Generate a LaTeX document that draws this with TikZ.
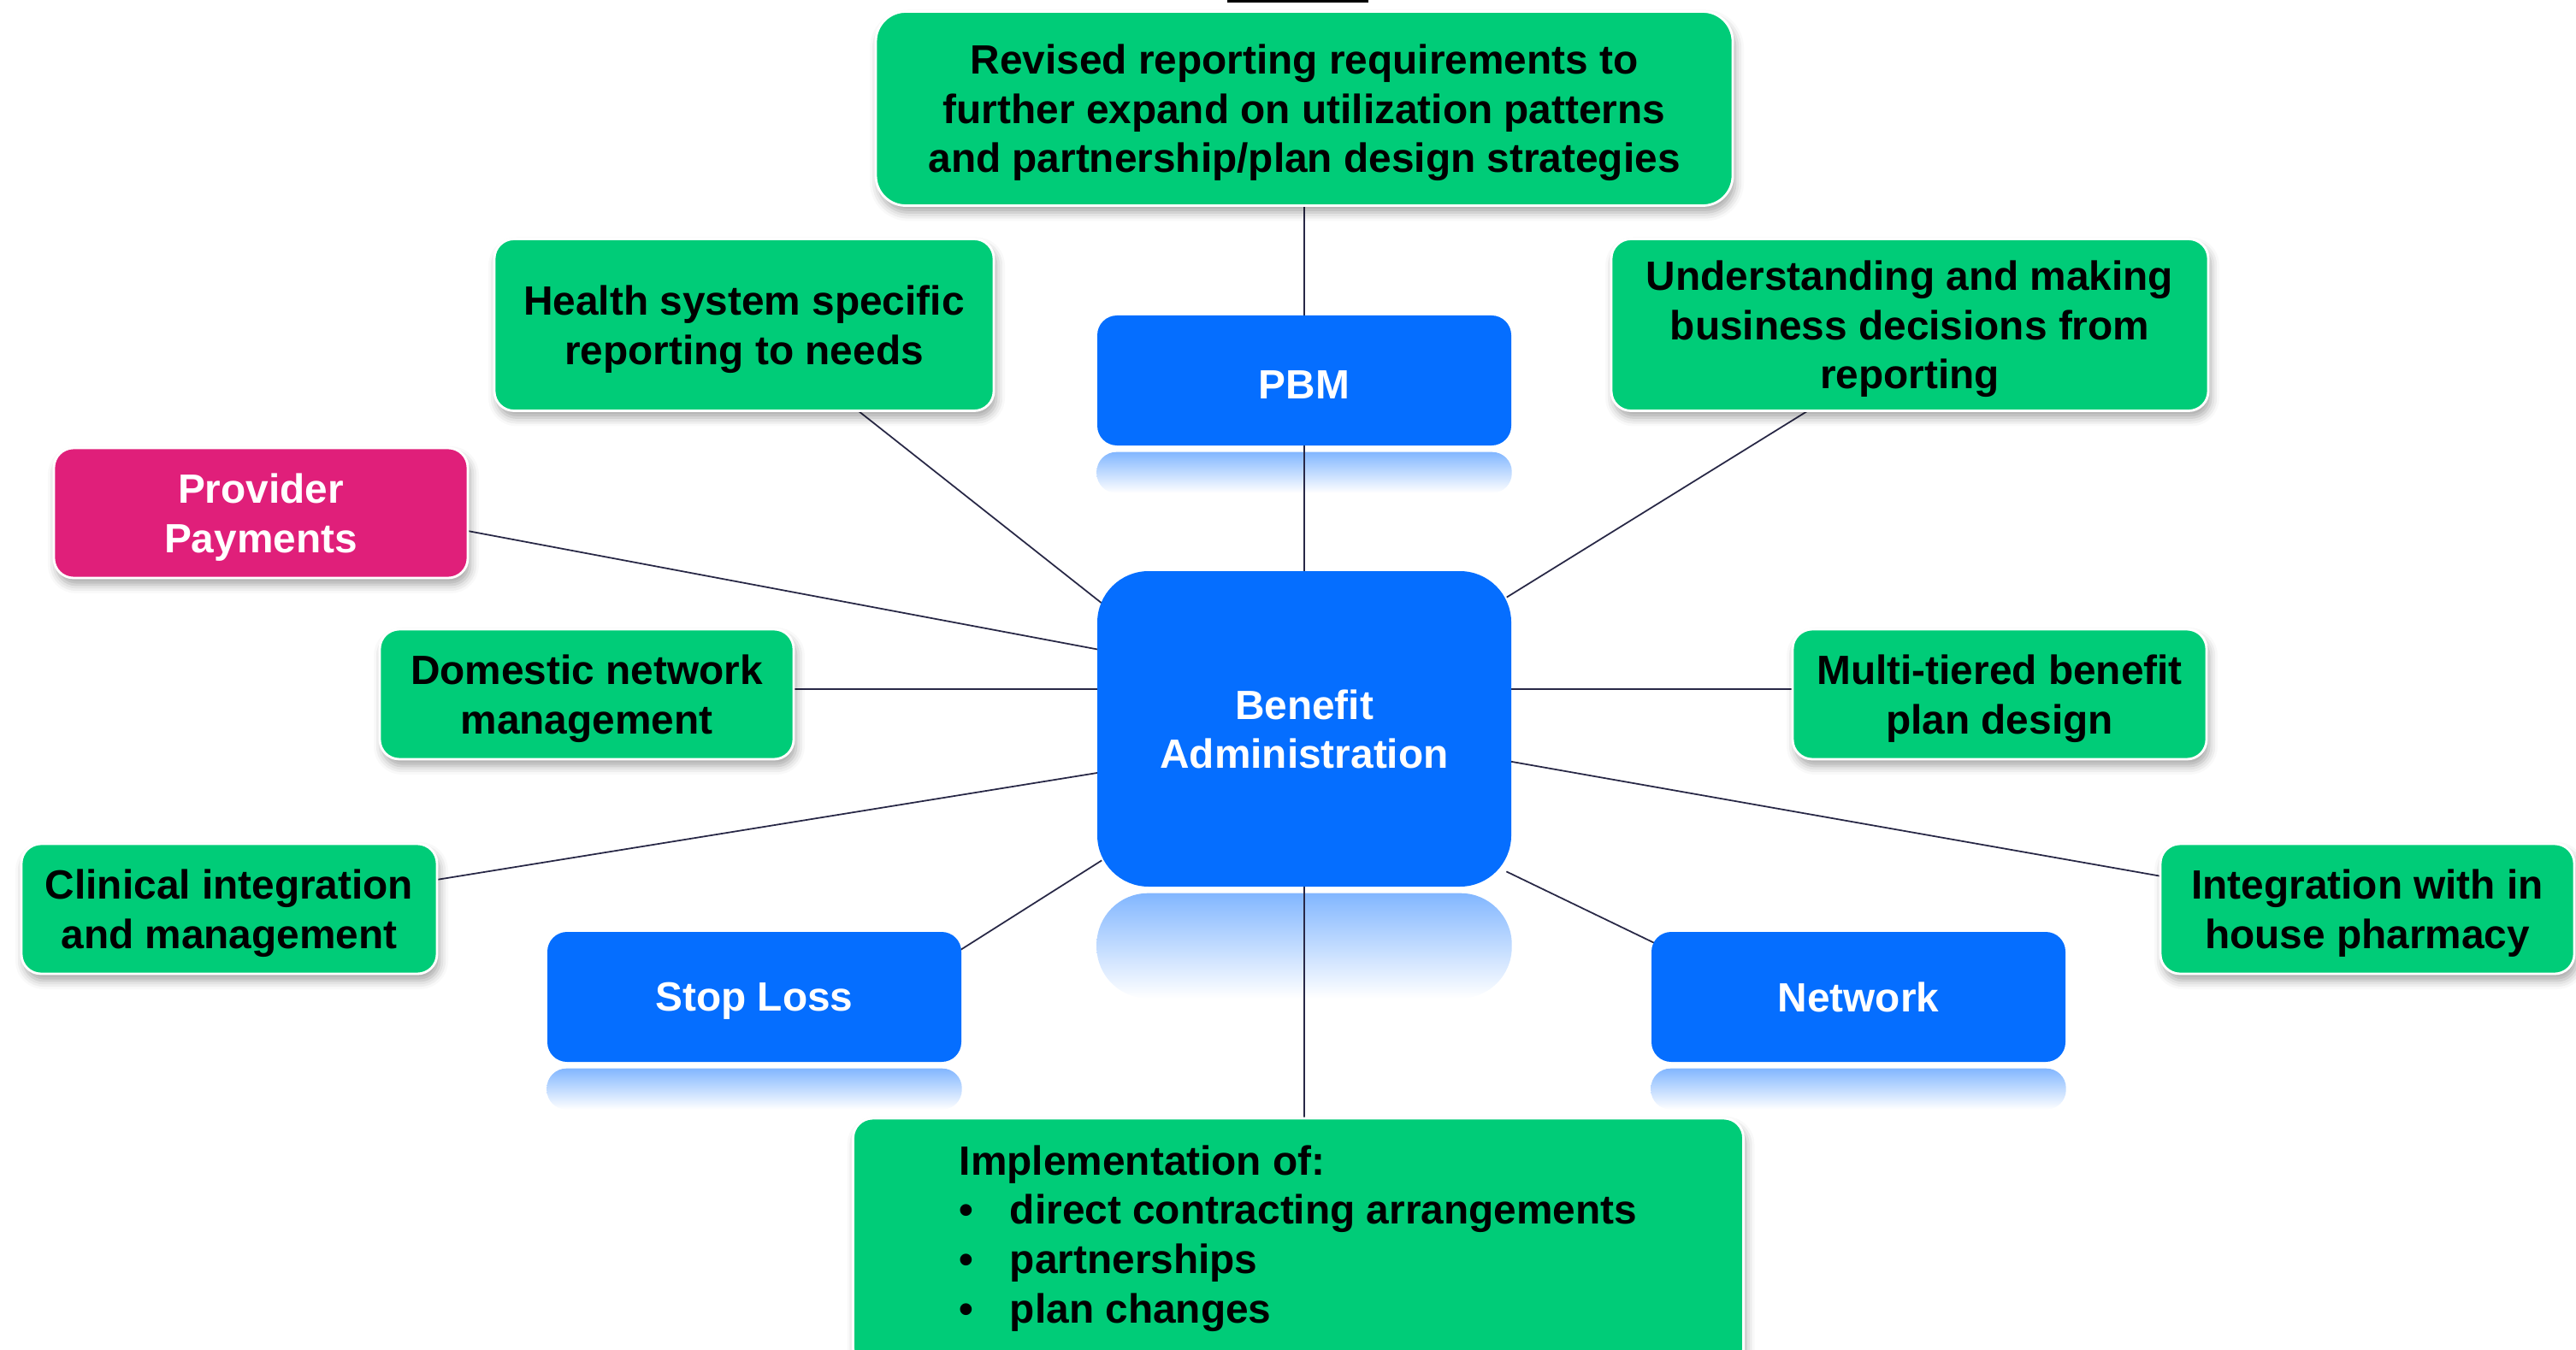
\documentclass[tikz,border=0pt]{standalone}
\usepackage{fontspec}
\setmainfont{Liberation Sans}
\usetikzlibrary{shadows.blur,backgrounds}

\definecolor{boxgreen}{RGB}{0,204,120}
\definecolor{boxblue}{RGB}{5,110,255}
\definecolor{boxpink}{RGB}{224,31,122}
\definecolor{linkgray}{RGB}{40,40,70}

\newcommand{\itemdot}{\makebox[0.59cm][l]{\textbullet}}

\tikzset{
  box/.style={rectangle, rounded corners=0.23cm, minimum width=4.84cm, minimum height=1.52cm,
    align=center, inner sep=2pt, text depth=0pt, font=\bfseries\fontsize{13.6}{16.4}\selectfont},
  greenbox/.style={box, fill=boxgreen, draw=white, line width=0.8pt,
    blur shadow={shadow xshift=0.03cm, shadow yshift=-0.08cm, shadow blur radius=0.1cm, shadow opacity=35}},
  pinkbox/.style={greenbox, fill=boxpink, text=white},
  bluebox/.style={box, fill=boxblue, text=white, draw=none},
  reflect/.style={top color=boxblue!50!white, bottom color=white, rounded corners=0.23cm},
  link/.style={draw=linkgray, line width=0.5pt, shorten <=-2pt, shorten >=-2pt}
}

\begin{document}
\begin{tikzpicture}
  \useasboundingbox (0,0) rectangle (30.12,15.78);
  \draw[line width=0.03cm] (14.35,15.765) -- (16.0,15.765);

  % top row
  \node[greenbox, rounded corners=0.35cm, minimum width=10.02cm, minimum height=2.27cm] (rev) at (15.25,14.51)
    {Revised reporting requirements to\\further expand on utilization patterns\\and partnership/plan design strategies};
  \node[greenbox, minimum width=5.84cm, minimum height=2.01cm] (health) at (8.70,11.98)
    {Health system specific\\reporting to needs};
  \node[bluebox, text height=12pt] (pbm) at (15.25,11.33) {PBM};
  \node[greenbox, minimum width=6.98cm, minimum height=2.01cm] (underst) at (22.33,11.98)
    {Understanding and making\\business decisions from\\reporting};

  % middle
  \node[pinkbox] (provider) at (3.05,9.78) {Provider\\Payments};
  \node[greenbox] (domestic) at (6.86,7.66) {Domestic network\\management};
  \node[bluebox, rounded corners=0.6cm, minimum height=3.69cm] (benefit) at (15.25,7.255)
    {Benefit\\Administration};
  \node[greenbox] (multi) at (23.38,7.66) {Multi-tiered benefit\\plan design};
  \node[greenbox, minimum width=4.86cm] (clinical) at (2.68,5.15) {Clinical integration\\and management};
  \node[greenbox] (pharmacy) at (27.68,5.15) {Integration with in\\house pharmacy};

  % bottom
  \node[bluebox] (stoploss) at (8.82,4.12) {Stop Loss};
  \node[bluebox] (network) at (21.73,4.12) {Network};
  \node[greenbox, align=left, text depth=6pt, minimum width=10.41cm, minimum height=2.92cm] (impl) at (15.18,1.24)
    {Implementation of:\\\itemdot direct contracting arrangements\\\itemdot partnerships\\\itemdot plan changes};

  \begin{scope}[on background layer]
    \shade[reflect] ([yshift=-0.07cm]pbm.south west) rectangle ([yshift=-0.55cm]pbm.south east);
    \shade[reflect, rounded corners=0.6cm] ([yshift=-0.07cm]benefit.south west) rectangle ([yshift=-1.3cm]benefit.south east);
    \shade[reflect] ([yshift=-0.07cm]stoploss.south west) rectangle ([yshift=-0.55cm]stoploss.south east);
    \shade[reflect] ([yshift=-0.07cm]network.south west) rectangle ([yshift=-0.55cm]network.south east);

    \path[link] (pbm.north) -- (pbm.north |- rev.south);
    \path[link] (pbm.south) -- (benefit.north);
    \path[link] (health.-37) -- (benefit.148);
    \path[link] (underst.220) -- (benefit.33.5);
    \path[link] (provider.-5.6) -- (benefit.159);
    \path[link] ([yshift=0.06cm]domestic.east) -- ([yshift=0.06cm]domestic.east -| benefit.west);
    \path[link] ([yshift=0.06cm]multi.west) -- ([yshift=0.06cm]multi.west -| benefit.east);
    \path[link] (clinical.8.5) -- (benefit.192);
    \path[link] (pharmacy.171.8) -- (benefit.-9.4);
    \path[link] (stoploss.13.9) -- (benefit.213.7);
    \path[link] (network.165) -- (benefit.-35.2);
    \path[link] (benefit.south) -- (benefit.south |- impl.north);
  \end{scope}
\end{tikzpicture}
\end{document}
